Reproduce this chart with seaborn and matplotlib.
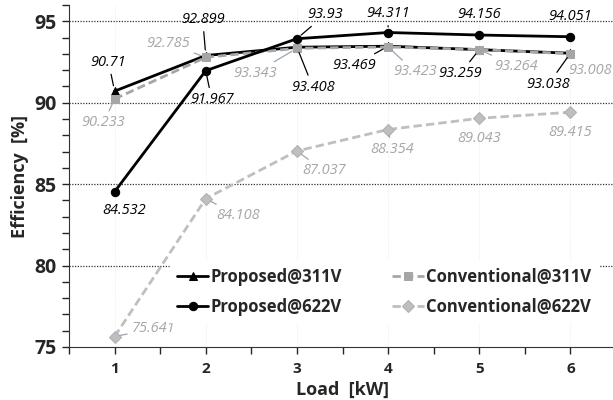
import numpy as np
import pandas as pd
import matplotlib
matplotlib.use("Agg")
import matplotlib.pyplot as plt
import seaborn as sns
from matplotlib.ticker import MultipleLocator

# Data
load_kw = [1, 2, 3, 4, 5, 6]
prop_311 = [90.71, 92.899, 93.408, 93.469, 93.259, 93.038]
prop_622 = [84.532, 91.967, 93.93, 94.311, 94.156, 94.051]
conv_311 = [90.233, 92.785, 93.343, 93.423, 93.264, 93.008]
conv_622 = [75.641, 84.108, 87.037, 88.354, 89.043, 89.415]
series_names = ["Proposed@311V", "Proposed@622V", "Conventional@311V", "Conventional@622V"]

sns.set_style("ticks")
plt.rcParams["font.family"] = ["Open Sans", "DejaVu Sans"]

fig = plt.figure(figsize=(6.13, 4.0), dpi=100)
ax = fig.add_axes([69 / 613, 1 - 347 / 400, (616 - 69) / 613, (347 - 5) / 400])

# faint vertical grid
for xv in np.arange(1, 7, 1):
    ax.axvline(xv, color="#ececec", lw=0.6, ls=(0, (1, 1)), zorder=0)

# horizontal dotted grid
for yv in [80, 85, 90, 95]:
    ax.axhline(yv, color="#333333", lw=0.9, ls=(0, (1, 1.2)), zorder=0)

sns.lineplot(x=load_kw, y=prop_311, ax=ax, color="black", lw=2.4, marker="^",
             markersize=8, markeredgecolor="black", label=series_names[0], zorder=3)
sns.lineplot(x=load_kw, y=conv_311, ax=ax, color="#a6a6a6", lw=2.4, linestyle=(0, (3, 1.5)),
             marker="s", markersize=9, markeredgecolor="#a6a6a6", label=series_names[2], zorder=4)
sns.lineplot(x=load_kw, y=conv_622, ax=ax, color="#bfbfbf", lw=2.4, linestyle=(0, (3, 1.5)),
             marker="D", markersize=6, markeredgecolor="#b0b0b0", label=series_names[3], zorder=3)
sns.lineplot(x=load_kw, y=prop_622, ax=ax, color="black", lw=2.4, marker="o",
             markersize=10, markeredgecolor="black", label=series_names[1], zorder=5)

# data labels: (values, offsets in pixels, text colour, leader colour, leader flags)
lab_kw = dict(textcoords="offset pixels", ha="center", va="center",
              fontsize=10.5, fontstyle="italic", zorder=6)
labels = [
    (prop_311, [(-6, 29), (-3, 36), (16, -40), (-34, -19), (-19, -24), (-22, -31)],
     "black", "black", [1, 1, 1, 1, 1, 1]),
    (prop_622, [(10, -19), (6, -29), (28, 24), (0, 19), (0, 21), (0, 20)],
     "black", "black", [0, 1, 1, 1, 0, 0]),
    (conv_311, [(-11, -24), (-38, 14), (-42, -25), (27, -25), (37, -17), (20, -17)],
     "#a6a6a6", "#9aa5b5", [1, 1, 1, 1, 1, 0]),
    (conv_622, [(39, 8), (32, -17), (27, -20), (4, -20), (0, -20), (0, -20)],
     "#a6a6a6", "#9aa5b5", [1, 1, 1, 1, 0, 0]),
]
for vals, offs, tcol, lcol, leads in labels:
    for xv, yv, off, lead in zip(load_kw, vals, offs, leads):
        arrow = dict(arrowstyle="-", color=lcol, lw=0.9, shrinkA=1, shrinkB=4) if lead else None
        ax.annotate(f"{yv:g}", xy=(xv, yv), xytext=off, color=tcol, arrowprops=arrow, **lab_kw)

ax.set_xlim(0.5, 6.5)
ax.set_ylim(75, 96)
ax.set_xticks(load_kw)
ax.set_xticklabels([str(v) for v in load_kw], fontweight="bold", fontsize=11)
ax.xaxis.set_minor_locator(MultipleLocator(0.5))
ax.yaxis.set_major_locator(MultipleLocator(5))
ax.yaxis.set_minor_locator(MultipleLocator(1))
ax.set_yticks([75, 80, 85, 90, 95])
ax.set_yticklabels(["75", "80", "85", "90", "95"], fontweight="bold", fontsize=14)
ax.tick_params(axis="x", which="both", length=5, width=1, pad=6)
ax.tick_params(axis="y", which="both", length=5, width=1, pad=4)
ax.spines["top"].set_visible(False)
ax.spines["right"].set_visible(False)
ax.spines["left"].set_color("#333333")
ax.spines["bottom"].set_color("#333333")

ax.set_xlabel("Load  [kW]", fontsize=13, fontweight="bold", labelpad=3)
ax.set_ylabel("Efficiency  [%]", fontsize=13, fontweight="bold", labelpad=4)

handles, labs = ax.get_legend_handles_labels()
order = [labs.index(n) for n in series_names]
for h in handles:
    h.set_markersize(6)
    h.set_linewidth(2)
leg = ax.legend([handles[i] for i in order], series_names,
                ncol=2, loc="center", bbox_to_anchor=(0.576, 0.161), frameon=True,
                fancybox=False, edgecolor="white", framealpha=1, facecolor="white",
                handlelength=1.9, handletextpad=0.15, columnspacing=3.0,
                labelspacing=0.7, prop={"weight": "bold", "size": 12})
leg.set_zorder(7)

fig.savefig("out.png", dpi=100)
